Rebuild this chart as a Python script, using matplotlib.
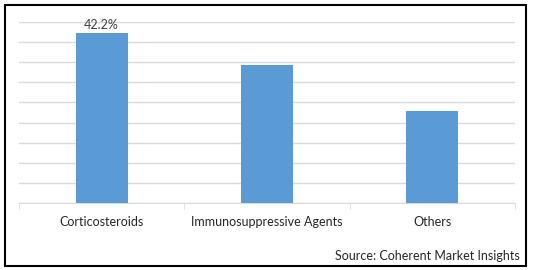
import matplotlib.pyplot as plt
from matplotlib.patches import Rectangle

categories = ["Corticosteroids", "Immunosuppressive Agents", "Others"]
shares = [42.2, 34.3, 22.9]
bar_labels = ["42.2%", "", ""]

plt.rcParams['font.family'] = ['Lato', 'DejaVu Sans']

fig = plt.figure(figsize=(5.35, 2.70), dpi=100)
ax = fig.add_axes([19 / 535, (270 - 203) / 270, (515 - 19) / 535, (203 - 22) / 270])

x = range(len(categories))
bars = ax.bar(x, shares, width=0.315, color='#5B9BD5', zorder=3)
for b, lab in zip(bars, bar_labels):
    if lab:
        ax.text(b.get_x() + b.get_width() / 2, b.get_height() + 0.6, lab,
                ha='center', va='bottom', fontsize=9, color='#404040')

ax.set_xlim(-0.5, len(categories) - 0.5)
ax.set_ylim(0, 45)
ax.set_yticks(range(0, 46, 5))
ax.yaxis.grid(True, color='#D9D9D9', linewidth=1)
ax.set_yticklabels([])
ax.tick_params(axis='y', length=0)

# category labels, ticks between categories
ax.set_xticks(list(x))
ax.set_xticklabels(categories, fontsize=9, color='#262626')
ax.tick_params(axis='x', length=0, pad=9)
ax.set_xticks([i - 0.5 for i in range(len(categories) + 1)], minor=True)
ax.tick_params(axis='x', which='minor', length=4, color='#D9D9D9')

for s in ['top', 'right', 'left']:
    ax.spines[s].set_visible(False)
ax.spines['bottom'].set_color('#D9D9D9')

fig.text(520 / 535, (270 - 256) / 270, "Source: Coherent Market Insights",
         ha='right', va='center', fontsize=9, color='#262626')

# outer frame
fig.patches.append(Rectangle((4.5 / 535, 4.5 / 270), 521 / 535, 261 / 270,
                             transform=fig.transFigure, fill=False,
                             edgecolor='black', linewidth=1.5))

fig.savefig("out.png", dpi=100)
